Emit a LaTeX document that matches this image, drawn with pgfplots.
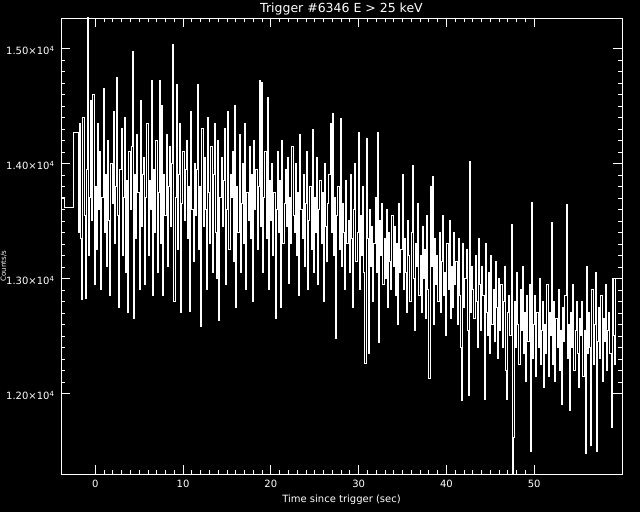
\documentclass[border=0pt]{standalone}
\usepackage{fontspec}
\setmainfont{DejaVu Sans}
\usepackage{pgfplots}
\pgfplotsset{compat=1.18}
\begin{document}
\begin{tikzpicture}[x=1pt,y=1pt]
\path[use as bounding box] (0,0) rectangle (640,512);
\fill[black] (0,0) rectangle (640,512);
\node[white,rotate=90,anchor=north,inner sep=0.5pt,font=\fontsize{7}{8}\selectfont] at (0,246) {Counts/s};
\begin{axis}[
  at={(61pt,38pt)}, anchor=south west,
  width=561pt, height=456pt, scale only axis,
  xmin=-3.9, xmax=60, ymin=11300, ymax=15265,
  axis line style={white, line width=0.8pt},
  every tick/.style={white, line width=0.8pt},
  tick align=inside, xtick pos=both, ytick pos=both,
  xticklabel pos=lower, yticklabel pos=left,
  major tick length=9pt, minor tick length=4pt,
  xtick={0,10,20,30,40,50}, minor x tick num=9,
  ytick={12000,13000,14000,15000}, minor y tick num=9,
  scaled y ticks=false,
  yticklabels={1.20×10\textsuperscript{4},1.30×10\textsuperscript{4},1.40×10\textsuperscript{4},1.50×10\textsuperscript{4}},
  /pgf/number format/assume math mode=true,
  ticklabel style={white, font=\fontsize{10}{12}\selectfont},
  yticklabel style={xshift=-3pt, yshift=-2pt},
  xticklabel style={yshift=-3pt},
  xlabel={Time since trigger (sec)},
  xlabel style={white, font=\fontsize{10}{12}\selectfont, yshift=0pt},
  title={Trigger \#6346 E > 25 keV},
  title style={white, font=\fontsize{12.5}{14}\selectfont, anchor=base, yshift=-1pt},
]
\addplot[const plot, white, line width=1pt] coordinates {
(-3.9,13700) (-3.5,13620) (-2.47,14270) (-1.92,13400)
};
\addplot[const plot, white, line width=1pt] table[row sep=\\, header=false, x expr=\coordindex*0.128-1.92, y index=0] {
13400\\ 14350\\ 13350\\ 12820\\ 14400\\ 13550\\ 12830\\ 13950\\
15400\\ 13200\\ 13700\\ 14550\\ 13500\\ 14600\\ 12950\\ 13800\\
13250\\ 14350\\ 13600\\ 14100\\ 12900\\ 13700\\ 14650\\ 13400\\
13900\\ 13100\\ 14200\\ 13500\\ 12850\\ 14000\\ 13650\\ 14450\\
13300\\ 13800\\ 14750\\ 13550\\ 12750\\ 13950\\ 14300\\ 13200\\
13700\\ 14400\\ 13050\\ 13850\\ 12700\\ 14100\\ 13600\\ 14150\\
14970\\ 12655\\ 13900\\ 13350\\ 14250\\ 13750\\ 12900\\ 14550\\
13450\\ 13900\\ 14050\\ 12950\\ 13700\\ 14350\\ 13200\\ 13850\\
13600\\ 14725\\ 12850\\ 13950\\ 13400\\ 14200\\ 13050\\ 13750\\
14725\\ 13300\\ 14500\\ 12850\\ 13900\\ 13550\\ 14250\\ 13100\\
13800\\ 14150\\ 13450\\ 14000\\ 15037\\ 12800\\ 13700\\ 14690\\
13250\\ 13900\\ 14350\\ 12700\\ 13650\\ 14100\\ 13500\\ 13950\\
14200\\ 13350\\ 13800\\ 12715\\ 14450\\ 13600\\ 13150\\ 14000\\
13550\\ 13950\\ 14690\\ 13250\\ 13800\\ 12585\\ 14300\\ 13450\\
14050\\ 13600\\ 12900\\ 14400\\ 13750\\ 13300\\ 14150\\ 13050\\
13900\\ 14350\\ 13400\\ 13000\\ 14200\\ 12637\\ 13700\\ 14050\\
13450\\ 13850\\ 14300\\ 12950\\ 13600\\ 14450\\ 13250\\ 13900\\
13700\\ 14100\\ 13150\\ 14500\\ 12750\\ 13800\\ 13400\\ 14250\\
13050\\ 13650\\ 14000\\ 13300\\ 14350\\ 12900\\ 13750\\ 13500\\
14150\\ 13350\\ 13900\\ 12800\\ 14200\\ 13600\\ 13950\\ 13250\\
13800\\ 14725\\ 13450\\ 14700\\ 13050\\ 13700\\ 14100\\ 13350\\
14570\\ 12900\\ 13850\\ 13500\\ 14000\\ 13200\\ 13750\\ 12650\\
13600\\ 14100\\ 13400\\ 13850\\ 12750\\ 14200\\ 13300\\ 13650\\
13950\\ 13450\\ 14050\\ 12960\\ 13700\\ 13300\\ 14150\\ 13550\\
13400\\ 14000\\ 13200\\ 13750\\ 12850\\ 14250\\ 13600\\ 13350\\
13900\\ 13100\\ 13650\\ 14100\\ 12900\\ 13500\\ 13800\\ 13250\\
14295\\ 13050\\ 13700\\ 13400\\ 14050\\ 12950\\ 13600\\ 13850\\
13300\\ 13750\\ 12800\\ 14000\\ 13450\\ 13150\\ 13650\\ 13900\\
14350\\ 13400\\ 14438\\ 13200\\ 13700\\ 12480\\ 13550\\ 13800\\
13250\\ 14395\\ 13100\\ 13650\\ 13400\\ 12900\\ 13850\\ 13300\\
13500\\ 13050\\ 13900\\ 13350\\ 12750\\ 13600\\ 14000\\ 13150\\
13400\\ 14270\\ 12900\\ 13550\\ 13200\\ 13800\\ 13050\\ 12265\\
14220\\ 13350\\ 12350\\ 13600\\ 13100\\ 13450\\ 12800\\ 13300\\
13700\\ 13050\\ 14270\\ 12445\\ 13500\\ 13200\\ 13650\\ 12950\\
13350\\ 13000\\ 13600\\ 12750\\ 13400\\ 13150\\ 12900\\ 13550\\
13100\\ 13450\\ 12850\\ 13300\\ 12600\\ 13650\\ 13050\\ 13250\\
13900\\ 12900\\ 13350\\ 13050\\ 12700\\ 13500\\ 13200\\ 12800\\
13400\\ 13985\\ 13000\\ 12550\\ 13300\\ 13100\\ 13650\\ 12850\\
13200\\ 12700\\ 13450\\ 13000\\ 13250\\ 12650\\ 13550\\ 12900\\
12130\\ 13800\\ 13100\\ 13890\\ 12600\\ 13350\\ 12950\\ 13200\\
12800\\ 13400\\ 12700\\ 13150\\ 13550\\ 12850\\ 13050\\ 12500\\
13300\\ 12900\\ 13500\\ 12650\\ 13100\\ 12750\\ 13400\\ 12950\\
13150\\ 12600\\ 13350\\ 12850\\ 12400\\ 11935\\ 13300\\ 12750\\
13000\\ 13250\\ 12550\\ 11980\\ 14020\\ 12700\\ 13100\\ 12900\\
12650\\ 13200\\ 12800\\ 12400\\ 13350\\ 12950\\ 12550\\ 13100\\
12850\\ 11950\\ 13300\\ 12700\\ 12500\\ 13050\\ 12350\\ 13200\\
12600\\ 12900\\ 12450\\ 13150\\ 12750\\ 12300\\ 13000\\ 12550\\
12950\\ 12400\\ 12800\\ 13100\\ 12200\\ 11950\\ 12700\\ 12850\\
12500\\ 13470\\ 11200\\ 11620\\ 12800\\ 12400\\ 13050\\ 12600\\
12250\\ 12900\\ 12550\\ 13100\\ 12350\\ 12700\\ 12100\\ 12850\\
12450\\ 12950\\ 11500\\ 13660\\ 12300\\ 12600\\ 12850\\ 12150\\
12700\\ 12400\\ 13000\\ 12250\\ 12550\\ 12800\\ 12050\\ 12600\\
12350\\ 12950\\ 12150\\ 12700\\ 12500\\ 13490\\ 12250\\ 12800\\
12100\\ 12650\\ 12400\\ 12900\\ 12200\\ 12550\\ 11900\\ 12750\\
12450\\ 12850\\ 13645\\ 12300\\ 12600\\ 11850\\ 12700\\ 12400\\
12950\\ 12200\\ 12550\\ 12800\\ 12350\\ 12050\\ 12650\\ 12500\\
12800\\ 12150\\ 12550\\ 11480\\ 13100\\ 12350\\ 12700\\ 12400\\
11550\\ 12900\\ 12250\\ 12600\\ 13050\\ 11500\\ 12450\\ 12750\\
12300\\ 12850\\ 12100\\ 12650\\ 12450\\ 12950\\ 12200\\ 12550\\
12700\\ 12350\\ 11700\\ 13000\\ 12500\\ 12250\\
13000\\ 13000\\ 13000\\ 13000\\ 13000\\ 13000\\ 13000\\ 13000\\
};
\end{axis}
\end{tikzpicture}
\end{document}
